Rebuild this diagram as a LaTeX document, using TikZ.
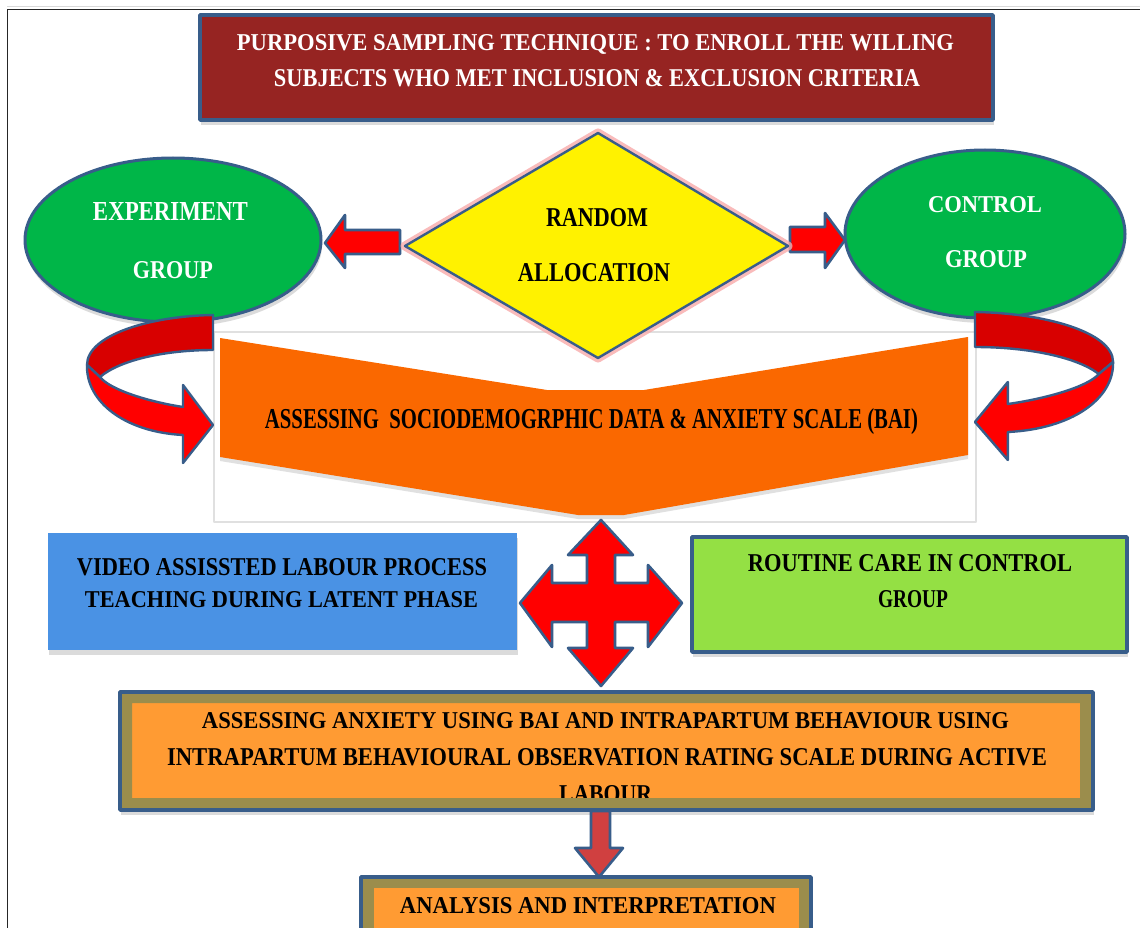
\documentclass[tikz,border=0pt]{standalone}
\usepackage{fontspec}
\setmainfont{Liberation Serif}
\usetikzlibrary{shapes.geometric,shadows}
\definecolor{bord}{RGB}{56,93,138}
\definecolor{topred}{RGB}{150,36,34}
\definecolor{egreen}{RGB}{0,182,72}
\definecolor{arrred}{RGB}{255,0,0}
\definecolor{darkred}{RGB}{216,0,0}
\definecolor{chev}{RGB}{250,104,0}
\definecolor{bluebox}{RGB}{74,146,228}
\definecolor{greenbox}{RGB}{148,224,68}
\definecolor{khakiring}{RGB}{155,141,76}
\definecolor{lorange}{RGB}{255,155,51}
\definecolor{glowpink}{RGB}{248,170,170}
\definecolor{shaftred}{RGB}{208,64,64}
\newcommand{\fitl}[3]{\resizebox{#1pt}{#2pt}{\bfseries #3}}
\begin{document}
\begin{tikzpicture}[x=1pt,y=-1pt,line join=round,
  shad/.style={drop shadow={shadow xshift=1pt,shadow yshift=-5pt,opacity=0.2,fill=black!70}},
  tline/.style={anchor=base,inner sep=0pt,outer sep=0pt},
  blk/.style={fill=arrred,draw=bord,line width=2.6pt},
  boxnode/.style={rectangle,inner sep=0pt,outer sep=0pt}]
\clip (0,0) rectangle (1140,928);
\fill[white] (0,0) rectangle (1140,928);
% frame
\draw[black!15,line width=1pt] (7,7) -- (1140,7);
\draw[black!85,line width=1.6pt] (7.5,928) -- (7.5,9.5) -- (1140,9.5);

% top box
\node[boxnode,fill=topred,draw=bord,line width=3.5pt,shad,minimum width=793,minimum height=105] (purp) at (596.5,67.5) {};
\node[tline,text=white] (t1) at (595.5,51) {\fitl{717}{16}{PURPOSIVE SAMPLING TECHNIQUE : TO ENROLL THE WILLING}};
\node[tline,text=white] (t2) at (597,87) {\fitl{646}{17}{SUBJECTS WHO MET INCLUSION \& EXCLUSION CRITERIA}};

% chevron block
\draw[black!12,line width=1.4pt,fill=white] (214,332) rectangle (976,522);
\fill[chev,drop shadow={shadow xshift=0pt,shadow yshift=-4pt,opacity=0.2,fill=black!60}] (220,338) -- (547,390) -- (644,390) -- (968,337) -- (968,455) -- (624,515) -- (578,515) -- (220,457) -- cycle;
\node[tline] (s1) at (591.5,428) {\fitl{653}{20}{ASSESSING\ \ SOCIODEMOGRPHIC DATA \& ANXIETY SCALE (BAI)}};

% small arrows
\draw[blk] (400,230) -- (345,230) -- (345,215) -- (325,243) -- (345,268) -- (345,254) -- (400,254) -- cycle;
\draw[blk] (790,227) -- (825,227) -- (825,213) -- (845,240) -- (825,268) -- (825,252) -- (790,252) -- cycle;

% diamond
\draw[glowpink,line width=9pt,opacity=0.8] (598,133) -- (788,246) -- (598,358) -- (405,246) -- cycle;
\filldraw[fill=yellow,draw=bord,line width=2.4pt] (598,133) coordinate (dtop) -- (788,246) coordinate (dright) -- (598,358) coordinate (dbot) -- (405,246) coordinate (dleft) -- cycle;
\node[tline] (r1) at (597,226) {\fitl{102}{18}{RANDOM}};
\node[tline] (r2) at (594,281) {\fitl{152}{18}{ALLOCATION}};

% ellipses
\node[ellipse,fill=egreen,draw=bord,line width=3pt,shad,inner sep=0pt,minimum width=296,minimum height=164] (exp) at (173,240) {};
\node[tline,text=white] (e1) at (170.5,220) {\fitl{155}{18}{EXPERIMENT}};
\node[tline,text=white] (e2) at (173,278) {\fitl{80}{17}{GROUP}};
\node[ellipse,fill=egreen,draw=bord,line width=3pt,shad,inner sep=0pt,minimum width=280,minimum height=168] (ctrl) at (985,234) {};
\node[tline,text=white] (c1) at (985,213) {\fitl{114}{16}{CONTROL}};
\node[tline,text=white] (c2) at (986,267) {\fitl{82}{17}{GROUP}};

% curved arrow left
\begin{scope}
\filldraw[fill=darkred,draw=bord,line width=2.4pt] (213,315) .. controls (150,316) and (87,335) .. (87,365) -- (100,377) .. controls (120,360) and (165,350) .. (213,350) -- cycle;
\filldraw[fill=arrred,draw=bord,line width=2.4pt] (87,365) .. controls (86,402) and (125,432) .. (183,435) -- (183,463) -- (213,425) -- (183,385) -- (183,407) .. controls (150,402) and (110,390) .. (100,377) -- cycle;
\end{scope}
% curved arrow right (mirror)
\begin{scope}[shift={(1208.4,-3)},xscale=-1.096]
\filldraw[fill=darkred,draw=bord,line width=2.4pt] (213,315) .. controls (150,316) and (87,335) .. (87,365) -- (100,377) .. controls (120,360) and (165,350) .. (213,350) -- cycle;
\filldraw[fill=arrred,draw=bord,line width=2.4pt] (87,365) .. controls (86,402) and (125,432) .. (183,435) -- (183,463) -- (213,425) -- (183,385) -- (183,407) .. controls (150,402) and (110,390) .. (100,377) -- cycle;
\end{scope}

% four-way arrow
\filldraw[fill=arrred,draw=bord,line width=2.6pt] (601,520) -- (633,555) -- (615,555) -- (615,583) -- (648,583) -- (648,565) -- (682,603) -- (648,647) -- (648,622) -- (615,622) -- (615,648) -- (633,648) -- (601,686) -- (568,648) -- (587,648) -- (587,622) -- (552,622) -- (552,647) -- (520,603) -- (552,565) -- (552,583) -- (587,583) -- (587,555) -- (568,555) -- cycle;

% blue box
\node[boxnode,fill=bluebox,shad,minimum width=469,minimum height=117] (video) at (282.5,591.5) {};
\node[tline] (v1) at (282,575) {\fitl{410}{17}{VIDEO ASSISSTED LABOUR PROCESS}};
\node[tline] (v2) at (281.5,607) {\fitl{393}{16}{TEACHING DURING LATENT PHASE}};

% green box
\node[boxnode,fill=greenbox,draw=bord,line width=3.5pt,shad,minimum width=435,minimum height=115] (routine) at (909.5,594.5) {};
\node[tline] (g1) at (910,571) {\fitl{324}{17}{ROUTINE CARE IN CONTROL}};
\node[tline] (g2) at (913,607) {\fitl{70}{17}{GROUP}};

% bottom box
\node[boxnode,fill=khakiring,shad,minimum width=973,minimum height=118] (assess) at (606.5,751) {};
\fill[lorange] (132,703) rectangle (1080,798);
\node[tline] (b1) at (605.5,728) {\fitl{807}{16}{ASSESSING ANXIETY USING BAI AND INTRAPARTUM BEHAVIOUR USING}};
\node[tline] (b2) at (607,765) {\fitl{880}{17}{INTRAPARTUM BEHAVIOURAL OBSERVATION RATING SCALE DURING ACTIVE}};
\node[tline] (b3) at (605.5,802) {\fitl{93}{17}{LABOUR}};
\fill[khakiring,even odd rule] (120,692) rectangle (1093,810) (132,703) rectangle (1080,798);
\draw[bord,line width=3.5pt] (assess.north west) rectangle (assess.south east);

% down arrow
\filldraw[fill=shaftred,draw=bord,line width=2.6pt] (591,811) -- (610,811) -- (610,848) -- (623,848) -- (599,877) -- (575,848) -- (591,848) -- cycle;

% final box
\node[boxnode,fill=khakiring,draw=bord,line width=3.5pt,shad,minimum width=450,minimum height=70] (anal) at (586,912) {};
\fill[lorange] (374,888) rectangle (799,940);
\node[tline] (f1) at (588,913) {\fitl{376}{16}{ANALYSIS AND INTERPRETATION}};
\end{tikzpicture}
\end{document}
